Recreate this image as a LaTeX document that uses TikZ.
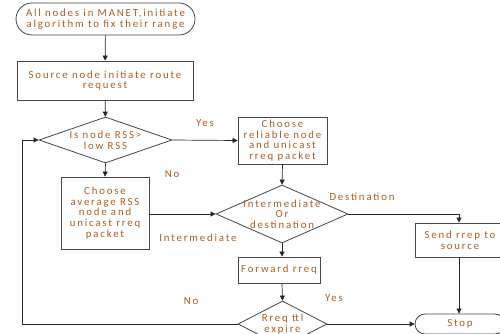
\documentclass[tikz,border=0pt]{standalone}
\usepackage{fontspec}
\setmainfont[LetterSpace=17]{Carlito}
\usetikzlibrary{shapes.geometric,shapes.misc,arrows.meta}
\definecolor{txt}{RGB}{170,92,34}
\definecolor{ln}{RGB}{70,70,70}
\tikzset{
  base/.style={draw=ln, line width=0.8pt, text=txt, font=\fontsize{10.8}{10.6}\selectfont, align=center, inner sep=0pt},
  box/.style={base, rectangle},
  term/.style={base, rounded rectangle},
  dia/.style={base, diamond},
  lab/.style={text=txt, font=\fontsize{10.8}{10.6}\selectfont, align=center, inner sep=0pt},
  conn/.style={draw=black!85, line width=0.7pt, -{Triangle[length=5pt,width=5pt]}}
}
\begin{document}
\begin{tikzpicture}[x=1pt,y=-1pt]
\useasboundingbox (0,0) rectangle (500,334);
\begin{scope}
\clip (0,0) rectangle (500,334);
\node[term, minimum width=179pt, minimum height=32pt] (start) at (105.5,19) {All nodes in MANET,initiate\\algorithm to fix their range};
\node[box, minimum width=176pt, minimum height=39pt] (src) at (105,80.5) {Source node initiate route\\request};
\node[dia, minimum width=133pt, minimum height=46pt, label={[lab]center:Is node RSS>\\low RSS}] (d1) at (105.5,140) {};
\node[box, minimum width=89pt, minimum height=47pt] (rel) at (282.5,140.5) {Choose\\reliable node\\and unicast\\rreq packet};
\node[box, minimum width=88pt, minimum height=72pt] (avg) at (105,213) {Choose\\average RSS\\node and\\unicast rreq\\packet};
\node[dia, minimum width=132pt, minimum height=58pt, label={[lab]center:Intermediate\\Or\\destination}] (d2) at (282,214) {};
\node[box, minimum width=82pt, minimum height=26pt] (fwd) at (279,270) {Forward rreq};
\node[dia, minimum width=89pt, minimum height=46pt, label={[lab]center:Rreq ttl\\expire}] (d3) at (282.5,324) {};
\node[box, minimum width=90pt, minimum height=34pt] (send) at (460,240) {Send rrep to\\source};
\node[term, minimum width=90pt, minimum height=20pt] (stop) at (460,324) {Stop};
\coordinate (loop) at (22,324);

\draw[conn] (start) -- (src);
\draw[conn] (src) -- (d1);
\draw[conn] (d1.east) -- (rel.west);
\draw[conn] (d1.south) -- (avg.north);
\draw[conn] (rel.south) -- (d2.north);
\draw[conn] (avg.east |- d2.west) -- (d2.west);
\draw[conn] (d2.east) -| ([xshift=-1pt]send.north);
\draw[conn] (d2.south) -- (d2.south |- fwd.north);
\draw[conn] (d2.south |- fwd.south) -- (d3.north);
\draw[conn] (d3.east) -- (stop.west);
\draw[conn] ([xshift=-1pt]send.south) -- ([xshift=-1pt]stop.north);
\draw[conn] (d3.west) -- (loop) |- (d1.west);

\node[lab] (lyes1) at (205,123) {Yes};
\node[lab] (lno1) at (172,174) {No};
\node[lab] (ldest) at (362,197) {Destination};
\node[lab] (linter) at (198,238) {Intermediate};
\node[lab] (lyes2) at (334,298) {Yes};
\node[lab] (lno2) at (191,301) {No};
\end{scope}
\end{tikzpicture}
\end{document}
